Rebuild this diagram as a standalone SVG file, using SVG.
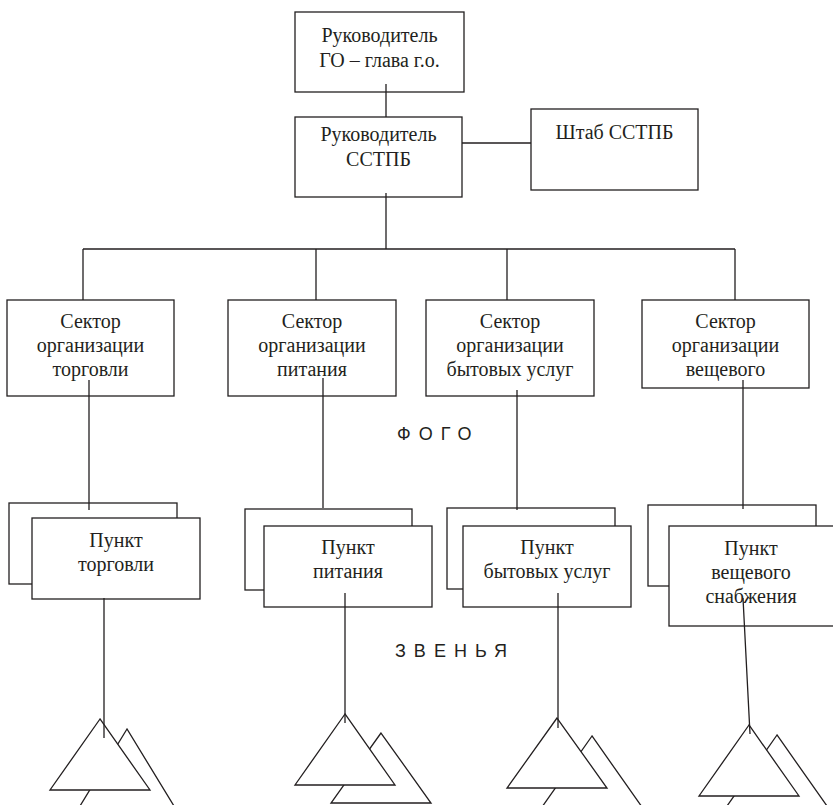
<svg xmlns="http://www.w3.org/2000/svg" width="833" height="805" viewBox="0 0 833 805">
<style>
.b{fill:#fff;stroke:#231f20;stroke-width:1.3}
.c{fill:none;stroke:#231f20;stroke-width:1.3}
.t{font-family:"Liberation Serif","Times New Roman",serif;font-size:20px;fill:#231f20;text-anchor:middle}
.s{font-family:"Liberation Sans",Arial,sans-serif;font-size:18px;fill:#231f20;letter-spacing:8px}
</style>
<rect width="833" height="805" fill="#fff"/>
<g id="head">
<rect class="b" x="295" y="12" width="169" height="80"/>
<text class="t" x="379.5" y="42">Руководитель</text>
<text class="t" x="379.5" y="67">ГО – глава г.о.</text>
</g>
<g id="chief">
<rect class="b" x="295" y="117" width="167" height="80"/>
<text class="t" x="378.5" y="141">Руководитель</text>
<text class="t" x="378.5" y="166">ССТПБ</text>
</g>
<g id="staff">
<rect class="b" x="531" y="109" width="167" height="81"/>
<text class="t" x="614.5" y="139">Штаб ССТПБ</text>
</g>
<g id="sector1">
<rect class="b" x="7" y="300" width="167" height="96"/>
<text class="t" x="90.5" y="328">Сектор</text>
<text class="t" x="90.5" y="352">организации</text>
<text class="t" x="90.5" y="376">торговли</text>
</g>
<g id="sector2">
<rect class="b" x="228" y="300" width="168" height="96"/>
<text class="t" x="312" y="328">Сектор</text>
<text class="t" x="312" y="352">организации</text>
<text class="t" x="312" y="376">питания</text>
</g>
<g id="sector3">
<rect class="b" x="426" y="300" width="168" height="96"/>
<text class="t" x="510" y="328">Сектор</text>
<text class="t" x="510" y="352">организации</text>
<text class="t" x="510" y="376">бытовых услуг</text>
</g>
<g id="sector4">
<rect class="b" x="642" y="300" width="167" height="88"/>
<text class="t" x="725.5" y="328">Сектор</text>
<text class="t" x="725.5" y="352">организации</text>
<text class="t" x="725.5" y="376">вещевого</text>
</g>
<g id="punkt1">
<rect class="b" x="9" y="503" width="168" height="81"/>
<rect class="b" x="32" y="518" width="168" height="81"/>
<text class="t" x="116" y="547">Пункт</text>
<text class="t" x="116" y="571">торговли</text>
</g>
<g id="punkt2">
<rect class="b" x="245" y="509" width="167" height="81"/>
<rect class="b" x="264" y="526" width="168" height="81"/>
<text class="t" x="348" y="554">Пункт</text>
<text class="t" x="348" y="578">питания</text>
</g>
<g id="punkt3">
<rect class="b" x="447" y="508" width="168" height="81"/>
<rect class="b" x="463" y="526" width="168" height="81"/>
<text class="t" x="547" y="554">Пункт</text>
<text class="t" x="547" y="578">бытовых услуг</text>
</g>
<g id="punkt4">
<rect class="b" x="648" y="505" width="168" height="81"/>
<rect class="b" x="669" y="526" width="168" height="100"/>
<text class="t" x="751" y="555">Пункт</text>
<text class="t" x="751" y="579">вещевого</text>
<text class="t" x="751" y="603">снабжения</text>
</g>
<g id="unit1">
<polygon class="b" points="127,729 80,806 174,806"/>
<polygon class="b" points="100,719 50,790 150,790"/>
</g>
<g id="unit2">
<polygon class="b" points="381,733 331,803 431,803"/>
<polygon class="b" points="345,714 295,785 395,785"/>
</g>
<g id="unit3">
<polygon class="b" points="592,736 542,807 642,807"/>
<polygon class="b" points="557,718 507,788 607,788"/>
</g>
<g id="unit4">
<polygon class="b" points="777,735 727,806 827,806"/>
<polygon class="b" points="749,725 699,796 799,796"/>
</g>
<g id="labels">
<text class="s" x="397" y="440">ФОГО</text>
<text class="s" x="395" y="657">ЗВЕНЬЯ</text>
</g>
<g id="connectors">
<path class="c" d="M386,84V117 M462,143H531 M386,193V249 M83,249H735 M83,249V300 M316,249V300 M507,249V300 M735,249V300"/>
<path class="c" d="M89,380V510 M323,378V508 M517,390V510 M743,380V509"/>
<path class="c" d="M104,598V738 M345,593V723 M558,593V728 M743,598L750,734"/>
</g>
</svg>
